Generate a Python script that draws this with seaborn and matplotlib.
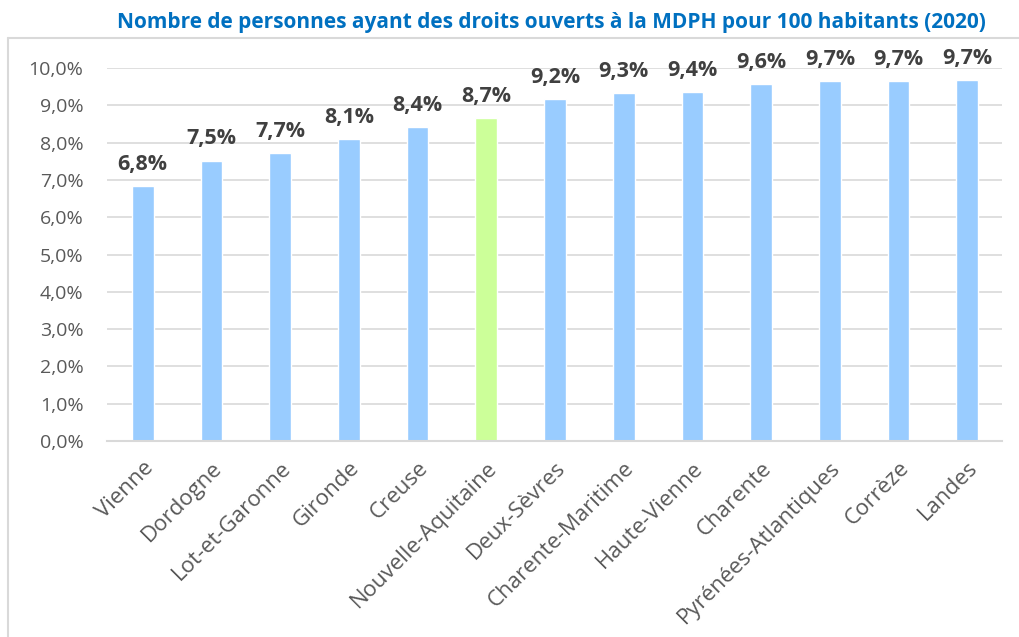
# plot.py
import numpy as np
import pandas as pd
import seaborn as sns
import matplotlib.pyplot as plt
from matplotlib.lines import Line2D

# data
departements = ['Vienne', 'Dordogne', 'Lot-et-Garonne', 'Gironde', 'Creuse',
                'Nouvelle-Aquitaine', 'Deux-Sèvres', 'Charente-Maritime',
                'Haute-Vienne', 'Charente', 'Pyrénées-Atlantiques', 'Corrèze',
                'Landes']
taux = [6.83, 7.52, 7.73, 8.10, 8.42, 8.66, 9.18, 9.33, 9.36, 9.58, 9.65, 9.66, 9.69]
labels = ['6,8%', '7,5%', '7,7%', '8,1%', '8,4%', '8,7%', '9,2%', '9,3%', '9,4%',
          '9,6%', '9,7%', '9,7%', '9,7%']
yticks = [0, 1, 2, 3, 4, 5, 6, 7, 8, 9, 10]

blue = '#99CCFF'
green = '#CCFF99'
colors = [green if d == 'Nouvelle-Aquitaine' else blue for d in departements]

df = pd.DataFrame({'dep': departements, 'taux': taux})

sns.set_style('white')
plt.rcParams['font.family'] = ['Open Sans', 'DejaVu Sans']

fig = plt.figure(figsize=(10.19, 6.37), dpi=100)
ax = fig.add_axes([0.105, 0.3077, 0.878, 0.5853])

sns.barplot(data=df, x='dep', y='taux', hue='dep', palette=colors,
            legend=False, width=0.315, ax=ax, saturation=1)

ax.set_ylim(0, 10)
ax.set_xlim(-0.52, 12.5)
ax.set_yticks(yticks)
ax.set_yticklabels([f'{v},0%' for v in yticks], color='#595959', fontsize=14)
ax.yaxis.grid(True, color='#D9D9D9', linewidth=1.2)
ax.set_axisbelow(True)
for s in ['top', 'right', 'left']:
    ax.spines[s].set_visible(False)
ax.spines['bottom'].set_color('#D9D9D9')
ax.spines['bottom'].set_linewidth(1.5)
ax.tick_params(axis='both', length=0)
ax.tick_params(axis='y', pad=17)
ax.set_xlabel('')
ax.set_ylabel('')
ax.set_xticks(range(len(departements)))
ax.set_xticklabels(departements, rotation=45, ha='right', rotation_mode='anchor',
                   color='#595959', fontsize=16)
ax.tick_params(axis='x', pad=12)

# value labels above bars
for i, (v, lab) in enumerate(zip(taux, labels)):
    ax.text(i, v + 0.3, lab, ha='center', va='bottom', fontsize=15.5,
            fontweight='bold', color='#404040', clip_on=False)

fig.text(0.541, 0.965, 'Nombre de personnes ayant des droits ouverts à la MDPH pour 100 habitants (2020)',
         ha='center', va='center', fontsize=15, fontweight='bold', color='#0070C0')

# chart frame (top and left edges)
fig.add_artist(Line2D([8 / 1019, 1], [1 - 38 / 637, 1 - 38 / 637], color='#D9D9D9', linewidth=1.5))
fig.add_artist(Line2D([8 / 1019, 8 / 1019], [0, 1 - 38 / 637], color='#D9D9D9', linewidth=1.5))

plt.savefig('out.png', dpi=100)
